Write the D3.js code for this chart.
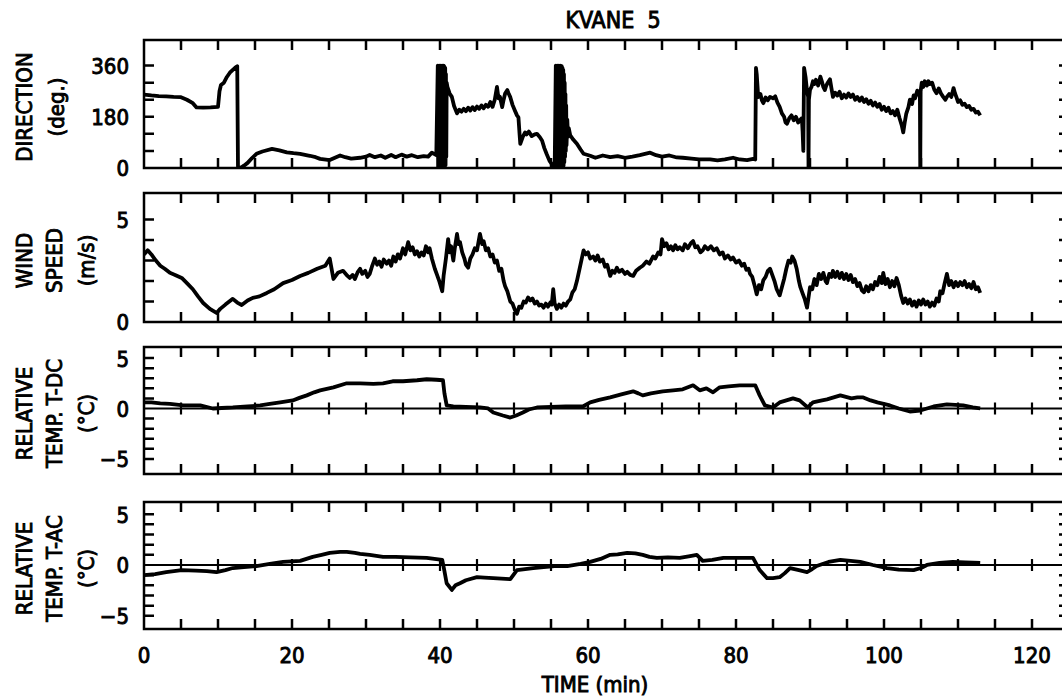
<!DOCTYPE html>
<html>
<head>
<meta charset="utf-8">
<script src="https://d3js.org/d3.v7.min.js"></script>
<style>
  body { margin: 0; background: #fff; }
  svg text {
    font-family: "DejaVu Sans Condensed", "DejaVu Sans", sans-serif;
    font-stretch: condensed;
    fill: #000;
    stroke: #000;
    stroke-width: 0.9px;
  }
</style>
</head>
<body>
<script>
// time ticks (min)
var timeLabels = [0, 20, 40, 60, 80, 100, 120];
var timeTicks = [5, 10, 15, 20, 25, 30, 35, 40, 45, 50, 55, 60, 65, 70, 75, 80, 85, 90, 95, 100, 105, 110, 115, 120];

// wind direction (deg) vs time (min)
var direction = [[0,258],[1,255],[2,253],[3,252],[4,250],[5,249],[5.8,240],[6.6,228],[7.1,213],[8,212],[9,213],[10,215],[10.2,270],[10.4,292],[10.8,300],[11.2,320],[11.6,335],[12,345],[12.3,352],[12.6,358],[12.7,5],[13,0],[13.5,8],[14,18],[14.6,35],[15.2,50],[16,58],[17.3,67],[18.3,62],[19.3,55],[20.2,52],[21.1,50],[22.4,43],[23.2,38],[23.8,32],[25.1,28],[25.8,36],[26.5,44],[27.2,38],[28,33],[29.2,36],[30,40],[30.5,46],[31.2,38],[32,44],[32.6,36],[33.4,46],[34,38],[34.8,47],[35.5,40],[36.2,45],[37,38],[37.8,42],[38.4,40],[38.9,54],[39.5,45],
  [39.7,360],[39.75,0],[39.8,358],[39.85,3],[39.9,360],[39.95,0],[40,356],[40.05,4],[40.1,360],[40.15,0],[40.2,358],[40.25,2],[40.3,360],[40.35,0],[40.4,355],[40.45,5],[40.5,360],[40.55,0],[40.6,356],[40.65,3],[40.7,352],[40.75,10],[40.8,330],[40.85,40],[40.9,300],
  [41,285],[41.3,262],[41.6,250],[41.9,218],[42.3,192],[42.6,205],[42.9,198],[43.2,208],[43.5,200],[43.8,212],[44.1,202],[44.4,214],[44.7,204],[45,216],[45.3,208],[45.6,220],[45.9,210],[46.2,222],[46.5,215],[46.8,232],[47.1,215],[47.4,240],[47.7,285],[47.9,245],[48.1,250],[48.4,214],[48.6,240],[48.8,262],[49.1,274],[49.3,260],[49.5,249],[49.8,222],[50.1,203],[50.4,185],[50.6,178],[50.75,120],[50.85,85],[51.2,110],[51.5,125],[51.7,118],[52,128],[52.4,112],[52.8,118],[53.1,120],[53.5,108],[53.8,96],[54.1,70],[54.4,50],[54.8,25],[55.1,14],[55.5,5],
  [55.65,360],[55.7,0],[55.75,358],[55.8,3],[55.85,360],[55.9,0],[55.95,356],[56,4],[56.05,360],[56.1,0],[56.15,358],[56.2,2],[56.25,360],[56.3,0],[56.35,355],[56.4,5],[56.45,358],[56.5,0],[56.55,352],[56.6,5],[56.65,345],[56.7,8],[56.75,330],[56.8,20],[56.85,300],[56.9,40],[56.95,260],[57,60],[57.05,220],[57.1,80],[57.2,170],[57.3,110],[57.4,140],[57.6,115],[58,100],[58.5,85],[59,65],[59.4,50],
  [60.3,43],[61,36],[62,44],[63,38],[64,42],[65,36],[66,40],[67,45],[68.4,54],[69.2,45],[70,40],[71,44],[72,37],[72.8,36],[74,33],[75,30],[76.5,30],[77.5,27],[78.5,30],[79.6,36],[80.5,30],[81.5,28],[82.3,32],[82.6,30],
  [82.7,352],[82.8,330],[82.9,290],[83,249],[83.3,260],[83.5,238],[83.7,228],[84,248],[84.3,238],[84.6,250],[85,245],[85.3,252],[85.6,230],[85.9,215],[86.2,192],[86.5,180],[86.7,160],[86.9,156],[87.2,175],[87.5,185],[87.8,168],[88.1,180],[88.4,160],[88.7,170],[88.9,175],[89,130],[89.1,60],[89.2,352],[89.4,320],[89.6,270],[89.75,250],[89.8,0],[89.85,240],[90,275],[90.2,285],[90.4,305],[90.6,295],[90.8,310],[91.1,290],[91.4,321],[91.6,305],[91.8,285],[92,274],[92.2,290],[92.4,300],[92.7,312],[92.9,280],[93.1,250],[93.4,265],[93.7,255],[94,268],[94.3,245],[94.6,258],[94.9,248],[95.2,262],[95.5,250],[95.8,258],[96.1,240],[96.4,250],[96.7,236],[97,248],[97.3,232],[97.6,242],[97.9,226],[98.2,236],[98.5,220],[98.8,230],[99.1,215],[99.4,225],[99.7,205],[100,215],[100.3,200],[100.6,212],[100.9,192],[101.2,200],[101.5,185],[101.8,205],[102.1,175],[102.4,150],[102.6,125],[102.8,160],[103,190],[103.3,214],[103.5,240],[103.8,225],[104,255],[104.2,245],[104.5,272],[104.7,258],[104.85,265],[104.9,0],[104.95,270],[105.1,300],[105.3,285],[105.5,305],[105.8,290],[106,305],[106.2,295],[106.5,300],[106.8,275],[107.1,263],[107.4,280],[107.7,262],[108,250],[108.3,240],[108.5,250],[108.8,260],[109.1,250],[109.4,281],[109.6,262],[109.8,248],[110,232],[110.3,238],[110.6,222],[110.9,226],[111.2,214],[111.5,218],[111.8,205],[112.1,208],[112.4,195],[112.7,198],[113,185]];

// wind speed (m/s)
var windSpeed = [[0,3.3],[0.5,3.5],[1,3.3],[1.6,3],[2.2,2.75],[2.8,2.6],[3.5,2.4],[4.2,2.3],[5.1,2.15],[5.8,1.9],[6.6,1.6],[7.3,1.25],[8,0.93],[8.9,0.64],[9.8,0.44],[10.3,0.64],[11,0.85],[12,1.13],[12.6,0.95],[13.2,0.83],[14,1.05],[14.7,1.18],[15.6,1.25],[16.6,1.42],[17.6,1.6],[18.8,1.9],[20,2.05],[21.1,2.25],[22.2,2.4],[23.4,2.6],[24.5,2.75],[25.1,3.1],[25.4,2.5],[25.6,2.1],[26.2,2.4],[26.9,2.5],[27.5,2.25],
  [27.8,2.15],[28.2,2.3],[28.5,2.1],[28.9,2.45],[29.2,2.6],[29.5,2.35],[29.9,2.5],[30.2,2.2],[30.5,2.35],[30.8,2.7],[31.2,3.1],[31.5,2.8],[31.8,2.95],[32.1,2.7],[32.4,3.05],[32.8,2.85],[33.1,3],[33.4,2.75],[33.7,3.2],[34,2.95],[34.3,3.3],[34.6,3.1],[35,3.6],[35.3,3.3],[35.7,3.9],[36,3.5],[36.3,3.65],[36.6,3.3],[36.9,3.45],[37.2,3.2],[37.5,3.4],[37.8,3.25],[38.1,3.7],[38.4,3.4],[38.6,3.6],[38.9,3.1],[39.3,2.6],[39.6,2.3],[39.9,2],[40.3,1.5],[40.5,2.3],[40.8,3.1],[41.1,4.05],[41.3,3.4],[41.5,3.7],[41.8,3],[42,3.6],[42.3,4.3],[42.5,3.8],[42.7,3.9],[43,3.4],[43.3,3.1],[43.5,2.8],[43.8,2.65],[44.1,3.1],[44.4,3.3],[44.7,3.6],[45,3.5],[45.2,3.9],[45.4,4.3],[45.7,3.8],[45.9,3.95],[46.2,3.5],[46.5,3.6],[46.8,3.2],[47.1,3.3],[47.4,2.9],[47.7,3],[48,2.5],[48.3,2.6],[48.6,2],[48.8,1.75],[49.1,1.5],[49.5,1],[49.8,0.9],[50.1,0.6],[50.4,0.4],[50.7,0.75],[51,0.7],[51.3,1],[51.6,0.95],[51.9,1.2],[52.2,1.05],[52.5,1.15],[52.8,0.9],[53.1,1],[53.4,0.8],[53.7,0.85],[54,0.7],[54.3,0.9],[54.6,0.75],[54.9,0.95],[55.1,0.85],[55.3,1.6],[55.5,0.9],[55.8,0.64],[56.1,0.85],[56.4,0.7],[56.7,0.9],[57,0.8],[57.3,1],[57.6,1.1],[57.9,1.45],[58.2,1.6],[58.5,2],[58.8,2.5],[59.1,3],[59.4,3.5],[59.7,3.3],[60,3.4],[60.3,3.1],[60.7,3.2],[61,3],[61.3,3.25],[61.6,2.95],[62,3.05],[62.3,2.7],[62.6,2.8],[63,2.25],[63.3,2.5],[63.6,2.4],[63.9,2.65],[64.2,2.45],[64.6,2.55],[65,2.35],[65.3,2.45],[65.7,2.3],[66.1,2.25],[66.5,2.5],[67,2.65],[67.4,2.75],[67.9,2.95],[68.3,2.85],[68.8,3.2],[69.1,3.1],[69.5,3.4],[69.8,3.3],[70,4.05],[70.3,3.7],[70.6,3.85],[70.9,3.55],[71.2,3.7],[71.5,3.5],[71.8,3.75],[72.1,3.55],[72.4,3.65],[72.8,3.5],[73.1,3.8],[73.5,3.6],[73.9,3.85],[74.2,3.95],[74.5,3.65],[74.8,3.7],[75.2,3.4],[75.5,3.5],[75.8,3.7],[76.2,3.55],[76.6,3.7],[77,3.5],[77.4,3.6],[77.8,3.3],[78.2,3.4],[78.5,3.1],[78.9,3.25],[79.3,3.05],[79.6,3.15],[80,2.9],[80.4,3],[80.8,2.75],[81.1,2.85],[81.4,2.55],[81.7,2.6],[81.9,2.35],[82.2,2.2],[82.5,1.8],[82.8,1.35],[83.1,1.8],[83.4,1.6],[83.7,2.05],[84,2.2],[84.3,2.5],[84.6,2.6],[84.9,2.3],[85.2,2],[85.5,1.6],[85.9,1.3],[86.2,1.7],[86.5,2.1],[86.8,2.6],[87.1,3],[87.4,2.9],[87.6,3.2],[87.9,3],[88.2,2.6],[88.5,2],[88.7,1.7],[89,1.4],[89.3,1.1],[89.6,0.7],[89.8,1.2],[90,1.7],[90.3,1.6],[90.6,2.1],[90.9,1.8],[91.2,2.35],[91.5,2.1],[91.8,2.4],[92.1,2],[92.3,1.9],[92.6,2.35],[92.9,2.2],[93.1,2.5],[93.4,2.2],[93.7,2.45],[94,2.15],[94.3,2.4],[94.6,2.1],[94.9,2.35],[95.2,2.05],[95.5,2.3],[95.8,1.95],[96.1,2.1],[96.4,1.75],[96.7,1.9],[97,1.55],[97.3,1.45],[97.6,1.75],[97.9,1.5],[98.2,1.8],[98.5,1.6],[98.8,1.95],[99.1,1.8],[99.4,2.2],[99.7,1.9],[99.9,2.4],[100.2,1.85],[100.5,2.1],[100.8,1.7],[101.1,2],[101.4,1.75],[101.7,2.15],[102,1.8],[102.3,1.3],[102.6,0.93],[102.9,1.15],[103.2,0.9],[103.5,1.1],[103.8,0.8],[104.1,1],[104.4,0.75],[104.7,1.05],[105,0.85],[105.3,1.1],[105.6,0.85],[105.9,1],[106.2,0.75],[106.5,0.95],[106.8,0.8],[107.1,1.15],[107.4,1],[107.6,1.5],[107.9,1.4],[108.2,1.9],[108.5,2.35],[108.8,1.8],[109.1,2],[109.4,1.7],[109.7,1.95],[110,1.75],[110.3,1.95],[110.6,1.8],[110.9,2],[111.2,1.7],[111.5,1.85],[111.8,1.65],[112.1,1.95],[112.4,1.6],[112.7,1.7],[113,1.42]];

// relative temperature T-DC (degC)
var tempDC = [[0,0.6],[1,0.6],[2.2,0.5],[3.5,0.45],[5.3,0.3],[7.6,0.3],[9.3,0],[10.5,0.05],[12,0.1],[14,0.2],[15.7,0.3],[17,0.45],[18.4,0.6],[20.1,0.8],[21,1.05],[22,1.3],[23,1.6],[23.8,1.8],[25.6,2.1],[27.4,2.5],[29.2,2.5],[31,2.45],[32.3,2.5],[33.6,2.7],[35,2.7],[36.9,2.8],[38.2,2.9],[39.5,2.85],[40.4,2.8],[40.6,1.5],[40.9,0.3],[41.8,0.2],[43.5,0.15],[45.4,0.1],[46.5,0],[47.2,-0.4],[48.5,-0.7],[49.5,-0.9],[50.3,-0.7],[51.2,-0.4],[52,-0.1],[53.1,0.1],[55,0.15],[57,0.2],[59.3,0.2],[60.3,0.6],[61.5,0.85],[63,1.1],[64.5,1.4],[66.1,1.7],[66.8,1.5],[67.4,1.3],[68.5,1.5],[70.1,1.7],[71.5,1.8],[72.8,1.9],[74.2,2.3],[75.1,1.8],[76,2],[76.9,1.6],[77.8,2.1],[79,2.2],[80.5,2.3],[82.6,2.3],[83.2,1.3],[83.9,0.3],[85,0.1],[85.9,0.6],[86.8,0.8],[87.7,1],[88.6,0.8],[89.7,0.1],[90.4,0.6],[91.3,0.75],[92.3,0.9],[93.2,1.1],[94.1,1.3],[95.6,1],[96.4,1.1],[97.2,1.1],[98.2,0.8],[99.1,0.6],[100.8,0.3],[102,0],[103.5,-0.3],[104.9,-0.2],[106.7,0.2],[108.5,0.4],[110.7,0.3],[112,0.1],[113,0]];

// relative temperature T-AC (degC)
var tempAC = [[0,-1],[1.5,-0.9],[3,-0.7],[5.1,-0.5],[7,-0.55],[8.5,-0.6],[9.8,-0.7],[11,-0.5],[12,-0.3],[13.5,-0.2],[15.2,-0.1],[17,0.1],[18.8,0.3],[21.1,0.4],[22.8,0.8],[24,1],[25.1,1.2],[26.5,1.3],[27.4,1.3],[28.5,1.2],[29.2,1.1],[30.5,1],[32.3,0.8],[34,0.8],[36,0.75],[38.2,0.7],[40.3,0.5],[40.6,-0.6],[40.9,-1.8],[41.6,-2.45],[42.1,-2],[42.7,-1.8],[43.5,-1.5],[45,-1.2],[46,-1.25],[47.2,-1.3],[48.3,-1.35],[49.5,-1.4],[50,-0.9],[50.4,-0.5],[51.5,-0.4],[52.6,-0.3],[54,-0.2],[55.5,-0.1],[57.2,-0.1],[59,0.1],[60.3,0.3],[61.7,0.6],[63,1],[64,1.05],[65.3,1.2],[66.4,1.15],[67.4,1],[68.3,0.8],[69.3,0.7],[70.8,0.75],[72.4,0.7],[73.6,0.85],[74.7,1],[75.5,0.4],[76.8,0.5],[78.3,0.7],[80.3,0.7],[82.3,0.7],[83.2,-0.5],[84.2,-1.3],[85,-1.3],[85.9,-1.2],[86.6,-0.8],[87.3,-0.3],[88.5,-0.5],[89.6,-0.7],[90.3,-0.4],[90.9,-0.1],[92.5,0.3],[94.1,0.5],[95.5,0.4],[96.8,0.3],[98.5,0],[100.4,-0.3],[102,-0.45],[104,-0.5],[105,-0.3],[105.8,0],[107.5,0.2],[109.3,0.3],[111,0.25],[113,0.2]];

var dirTicks = [0, 180, 360], dirMinor = [60, 120, 180, 240, 300, 360];
var windTicks = [0, 5], windMinor = [1, 2, 3, 4, 5];
var tempTicks = [-5, 0, 5], tempMinor = [-5, -4, -3, -2, -1, 1, 2, 3, 4, 5];

var width = 1062, height = 700;
var x = d3.scaleLinear().domain([0, 125]).range([144, 1069]);

var svg = d3.select("body").append("svg")
    .attr("width", width)
    .attr("height", height);

var defs = svg.append("defs");

var panels = [
    { data: direction, top: 40, bottom: 168, domain: [0, 450], ticks: dirTicks, minor: dirMinor, zero: false,
      label: ["DIRECTION", "(deg.)"] },
    { data: windSpeed, top: 193, bottom: 322, domain: [0, 6.3], ticks: windTicks, minor: windMinor, zero: false,
      label: ["WIND", "SPEED", "(m/s)"] },
    { data: tempDC, top: 347, bottom: 474, domain: [-6.5, 6.1], ticks: tempTicks, minor: tempMinor, zero: true,
      label: ["RELATIVE", "TEMP. T-DC", "(\u00B0C)"] },
    { data: tempAC, top: 502, bottom: 629, domain: [-6.3, 6.2], ticks: tempTicks, minor: tempMinor, zero: true,
      label: ["RELATIVE", "TEMP. T-AC", "(\u00B0C)"] }
];

panels.forEach(function (p, i) {
    var y = d3.scaleLinear().domain(p.domain).range([p.bottom, p.top]);
    var g = svg.append("g");
    var clipId = "clip" + i;
    var x0 = x(0), x1 = x(125);

    defs.append("clipPath").attr("id", clipId)
        .append("rect")
        .attr("x", x0).attr("y", p.top)
        .attr("width", x1 - x0).attr("height", p.bottom - p.top);

    var line = d3.line()
        .x(function (d) { return x(d[0]); })
        .y(function (d) { return y(d[1]); });

    g.append("path").datum(p.data)
        .attr("fill", "none")
        .attr("stroke", "#000")
        .attr("stroke-width", 3.8)
        .attr("stroke-linejoin", "round")
        .attr("clip-path", "url(#" + clipId + ")")
        .attr("d", line);

    // frame outline and its inward ticks as one path
    var fp = d3.path();
    fp.rect(x0, p.top, x1 - x0, p.bottom - p.top);
    timeTicks.forEach(function (t) {
        fp.moveTo(x(t), p.top); fp.lineTo(x(t), p.top + 10);
        fp.moveTo(x(t), p.bottom); fp.lineTo(x(t), p.bottom - 10);
    });
    p.minor.forEach(function (v) {
        fp.moveTo(x0, y(v)); fp.lineTo(x0 + 10, y(v));
        fp.moveTo(x1, y(v)); fp.lineTo(x1 - 10, y(v));
    });
    g.append("path")
        .attr("d", fp.toString())
        .attr("fill", "none")
        .attr("stroke", "#000")
        .attr("stroke-width", 2.5);

    // zero line with crossing ticks as one path
    if (p.zero) {
        var zp = d3.path();
        zp.moveTo(x0, y(0)); zp.lineTo(x1, y(0));
        timeTicks.forEach(function (t) {
            zp.moveTo(x(t), y(0) - 6); zp.lineTo(x(t), y(0) + 6);
        });
        g.append("path")
            .attr("d", zp.toString())
            .attr("fill", "none")
            .attr("stroke", "#000")
            .attr("stroke-width", 2.2);
    }

    // tick labels
    var ax = g.append("g").attr("transform", "translate(" + x0 + ",0)")
        .call(d3.axisLeft(y).tickValues(p.ticks).tickSize(0).tickPadding(15).tickFormat(d3.format("d")));
    ax.select(".domain").remove();
    ax.attr("font-family", null).attr("font-size", null);
    ax.selectAll("text")
        .style("font-size", "22px")
        .attr("dy", "0.36em");

    // rotated panel label
    var cy = (p.top + p.bottom) / 2 + 3;
    var xs = p.label.length === 2 ? [32, 64] : [32, 62, 94];
    p.label.forEach(function (t, k) {
        svg.append("text")
            .attr("transform", "translate(" + xs[k] + "," + cy + ") rotate(-90)")
            .attr("text-anchor", "middle")
            .style("font-size", "22px")
            .text(t);
    });
});

// bottom time labels
svg.append("g").selectAll("text")
    .data(timeLabels)
    .enter().append("text")
    .attr("x", function (d) { return x(d); })
    .attr("y", 663)
    .attr("text-anchor", "middle")
    .style("font-size", "22px")
    .text(function (d) { return d; });

svg.append("text")
    .attr("x", 595).attr("y", 692)
    .attr("text-anchor", "middle")
    .style("font-size", "22px")
    .text("TIME (min)");

svg.append("text")
    .attr("x", 613).attr("y", 28)
    .attr("text-anchor", "middle")
    .style("font-size", "23px")
    .style("white-space", "pre")
    .text("KVANE  5");
</script>
</body>
</html>
